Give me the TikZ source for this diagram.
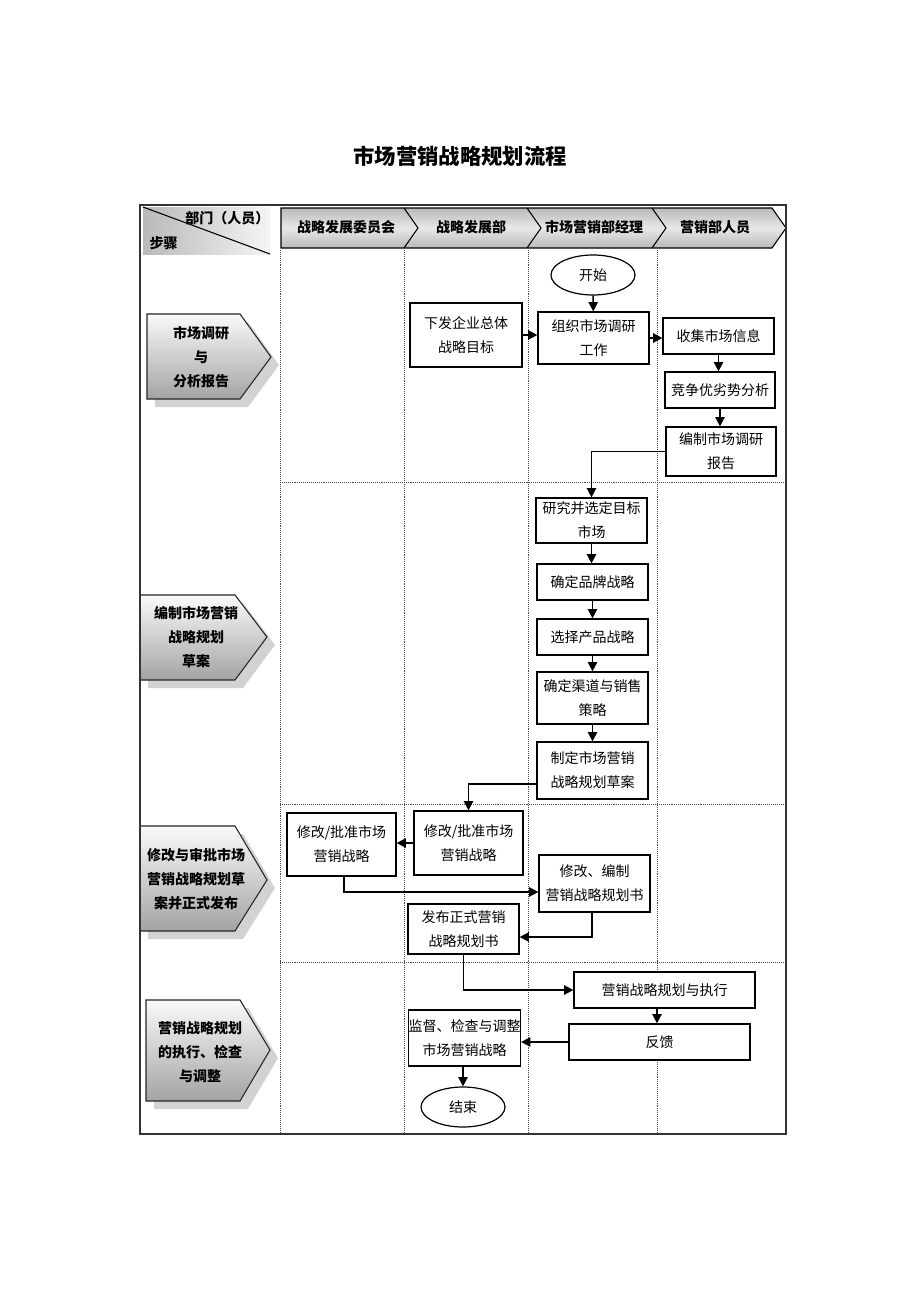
\documentclass[tikz,border=0pt]{standalone}
\usepackage{fontspec}
\setmainfont{Noto Sans CJK SC}
\usetikzlibrary{shapes.geometric,arrows.meta,calc}
\newcommand\flowbox[6]{%
  \node[box, minimum width={(#4-#2)*0.75pt}, minimum height={(#5-#3)*0.75pt}]
    (#1) at ({(#2+#4)/2},{(#3+#5)/2}) {#6};}
\begin{document}
\begin{tikzpicture}[x=0.75pt,y=-0.75pt,
  box/.style={draw, line width=0.9pt, fill=white, inner sep=0pt, align=center, font=\fontsize{10.5}{18}\selectfont},
  oval/.style={draw, ellipse, line width=0.9pt, fill=white, minimum width=63pt, minimum height=30pt, inner sep=0pt, font=\fontsize{10.5}{18}\selectfont},
  arr/.style={line width=1.1pt, -{Triangle[length=7pt,width=7pt]}},
  lane/.style={densely dotted, gray!60!black, line width=0.45pt},
  stagetext/.style={align=center, font=\bfseries\fontsize{10.5}{18}\selectfont},
  headtext/.style={font=\bfseries\fontsize{10.5}{14}\selectfont},
  shadowc/.style={fill=gray!35},
  stageshade/.style={top color=gray!4, bottom color=gray!72},
  stageline/.style={draw=black!85, line width=0.8pt}
]
\useasboundingbox (0,0) rectangle (920,1302);
\fill[white] (0,0) rectangle (920,1302);

% title
\node[font=\bfseries\fontsize{16}{20}\selectfont] (title) at (460,156) {市场营销战略规划流程};

% lanes
\draw[lane] (280,250) -- (280,1134);
\draw[lane] (404,250) -- (404,1134);
\draw[lane] (528,250) -- (528,1134);
\draw[lane] (657,250) -- (657,1134);
\draw[lane] (280,482) -- (786,482);
\draw[lane] (280,804) -- (786,804);
\draw[lane] (280,962) -- (786,962);

% top-left header cell
\shade[left color=gray!55, right color=gray!8] (143,207) rectangle (270,254);
\draw[line width=0.8pt] (143,207) -- (270,254);
\node[headtext, anchor=east] (dept) at (274,218) {部门（人员）};
\node[headtext, anchor=west] (steps) at (145,243) {步骤};

% header chevron band
\shade[top color=gray!55, bottom color=gray!55, middle color=gray!18]
  (281,208) -- (772,208) -- (786,228) -- (772,248) -- (281,248) -- cycle;
\draw[line width=0.8pt] (281,208) -- (772,208) -- (786,228) -- (772,248) -- (281,248) -- cycle;
\draw[line width=0.8pt] (404,208) -- (418,228) -- (404,248);
\draw[line width=0.8pt] (527,208) -- (541,228) -- (527,248);
\draw[line width=0.8pt] (652,208) -- (666,228) -- (652,248);
\node[headtext] (h1) at (346,227) {战略发展委员会};
\node[headtext] (h2) at (471,227) {战略发展部};
\node[headtext] (h3) at (594,227) {市场营销部经理};
\node[headtext] (h4) at (715,227) {营销部人员};

% stage arrows
\fill[shadowc] (155,322) -- (248,322) -- (279,365) -- (248,407) -- (155,407) -- cycle;
\shade[stageshade] (147,314) -- (240,314) -- (271,357) -- (240,399) -- (147,399) -- cycle;
\draw[stageline] (147,314) -- (240,314) -- (271,357) -- (240,399) -- (147,399) -- cycle;
\node[stagetext] (s1) at (201,357) {市场调研\\与\\分析报告};

\fill[shadowc] (148,603) -- (243,603) -- (275,645) -- (243,688) -- (148,688) -- cycle;
\shade[stageshade] (140,595) -- (235,595) -- (267,637) -- (235,680) -- (140,680) -- cycle;
\draw[stageline] (140,595) -- (235,595) -- (267,637) -- (235,680) -- (140,680) -- cycle;
\node[stagetext] (s2) at (196,637) {编制市场营销\\战略规划\\草案};

\fill[shadowc] (148,834) -- (243,834) -- (275,888) -- (243,939) -- (148,939) -- cycle;
\shade[stageshade] (140,826) -- (235,826) -- (267,880) -- (235,931) -- (140,931) -- cycle;
\draw[stageline] (140,826) -- (235,826) -- (267,880) -- (235,931) -- (140,931) -- cycle;
\node[stagetext] (s3) at (196,879) {修改与审批市场\\营销战略规划草\\案并正式发布};

\fill[shadowc] (154,1008) -- (248,1008) -- (278,1058) -- (248,1109) -- (154,1109) -- cycle;
\shade[stageshade] (146,1000) -- (240,1000) -- (270,1050) -- (240,1101) -- (146,1101) -- cycle;
\draw[stageline] (146,1000) -- (240,1000) -- (270,1050) -- (240,1101) -- (146,1101) -- cycle;
\node[stagetext] (s4) at (200,1052) {营销战略规划\\的执行、检查\\与调整};

% outer frame
\draw[line width=0.9pt, black!80] (140,205) rectangle (786,1134);

% flow nodes
\node[oval] (start) at (593,275) {开始};
\flowbox{xiafa}{410}{303}{522}{367}{下发企业总体\\战略目标}
\flowbox{org}{538}{312}{649}{364}{组织市场调研\\工作}
\flowbox{collect}{663}{318}{774}{354}{收集市场信息}
\flowbox{compete}{665}{372}{775}{408}{竞争优劣势分析}
\flowbox{report}{666}{427}{776}{476}{编制市场调研\\报告}
\flowbox{research}{536}{498}{647}{543}{研究并选定目标\\市场}
\flowbox{brand}{537}{564}{648}{600}{确定品牌战略}
\flowbox{product}{537}{619}{648}{655}{选择产品战略}
\flowbox{channel}{537}{672}{648}{724}{确定渠道与销售\\策略}
\flowbox{draft}{537}{742}{648}{799}{制定市场营销\\战略规划草案}
\flowbox{revdept}{414}{811}{523}{875}{修改/批准市场\\营销战略}
\flowbox{revcomm}{287}{813}{396}{876}{修改/批准市场\\营销战略}
\flowbox{edit}{539}{855}{650}{912}{修改、编制\\营销战略规划书}
\flowbox{publish}{408}{904}{519}{954}{发布正式营销\\战略规划书}
\flowbox{exec}{574}{972}{755}{1008}{营销战略规划与执行}
\flowbox{feedback}{569}{1024}{750}{1060}{反馈}
\flowbox{monitor}{409}{1010}{520}{1066}{监督、检查与调整\\市场营销战略}
\node[oval] (end) at (463,1107) {结束};

% helper coordinates
\coordinate (y784) at (0,784);
\coordinate (c1) at (344,892);
\coordinate (c2) at (592,937);
\coordinate (x657) at (657,0);

% connectors
\draw[arr] (start) -- (org);
\draw[arr] (xiafa.east) -- (xiafa.east -| org.west);
\draw[arr] (org.east) -- (org.east -| collect.west);
\draw[arr] (collect.south) -- (collect.south |- compete.north);
\draw[arr] (compete.south) -- (compete.south |- report.north);
\draw[arr] (report.west) -| (research.north);
\draw[arr] (research.south) -- (research.south |- brand.north);
\draw[arr] (brand.south) -- (brand.south |- product.north);
\draw[arr] (product.south) -- (product.south |- channel.north);
\draw[arr] (channel.south) -- (channel.south |- draft.north);
\draw[arr] (draft.west |- y784) -| (revdept.north);
\draw[arr] (revdept.west) -- (revdept.west -| revcomm.east);
\draw[arr] (revcomm.south -| c1) -- (c1) -- (c1 -| edit.west);
\draw[arr] (edit.south -| c2) -- (c2) -- (c2 -| publish.east);
\draw[arr] (publish.south) |- (exec.west);
\draw[arr] (exec.south -| x657) -- (feedback.north -| x657);
\draw[arr] (feedback.west) -- (feedback.west -| monitor.east);
\draw[arr] (monitor.south -| end.north) -- (end.north);
\end{tikzpicture}
\end{document}
